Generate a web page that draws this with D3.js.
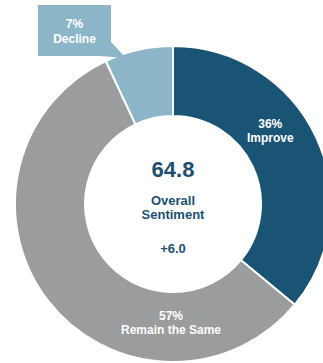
<!DOCTYPE html>
<html>
  <head>
    <meta charset="UTF-8" />
    <title>Overall Sentiment</title>
    <script src="https://d3js.org/d3.v7.min.js"></script>
    <style>
      body { margin: 0; background: #fff; }
      svg { display: block; font-family: 'Liberation Sans', Arial, sans-serif; font-weight: bold; }
    </style>
  </head>
  <body>
    <div id="main"></div>
    <script type="text/javascript">
      const width = 323;
      const height = 363;

      // data
      const categories = ['Improve', 'Remain the Same', 'Decline'];
      const shares = [36, 57, 7];
      const colors = ['#1a5475', '#9b9c9d', '#8cb5c7'];
      const score = '64.8';
      const scoreLabel = ['Overall', 'Sentiment'];
      const change = '+6.0';

      const cx = 173;
      const cy = 204;
      const rOuter = 158;
      const rInner = 88;

      const svg = d3
        .select('div#main')
        .append('svg')
        .attr('width', width)
        .attr('height', height);

      const pie = d3.pie().sort(null).value(d => d);
      const arcs = pie(shares);

      const arc = d3.arc().innerRadius(rInner).outerRadius(rOuter);

      const g = svg.append('g').attr('transform', `translate(${cx},${cy})`);

      g.selectAll('path')
        .data(arcs)
        .enter()
        .append('path')
        .attr('d', arc)
        .attr('fill', (d, i) => colors[i])
        .attr('stroke', '#fff')
        .attr('stroke-width', 2);

      // labels inside the ring, placed by hand-ish from the centroid
      const labelArc = d3.arc().innerRadius(rInner).outerRadius(rOuter);
      const labelShift = [[-14, -24], [-2, 0]];
      arcs.slice(0, 2).forEach((d, i) => {
        let [x, y] = labelArc.centroid(d);
        if (i === 1) { x = 0; y = 116; }
        x += labelShift[i][0];
        y += labelShift[i][1];
        const t = g.append('text')
          .attr('text-anchor', 'middle')
          .attr('fill', '#fff')
          .attr('font-size', 12);
        t.append('tspan').attr('x', x).attr('y', y).text(shares[i] + '%');
        t.append('tspan').attr('x', x).attr('y', y + 14).text(categories[i]);
      });

      // callout for the small slice
      const box = { x: 38, y: 5, w: 73, h: 51 };
      svg.append('path')
        .attr('d', `M${box.x + box.w - 12},${box.y + box.h} L${box.x + box.w},${box.y + box.h - 14} L${box.x + box.w + 15},${box.y + box.h + 2} Z`)
        .attr('fill', colors[2]);
      svg.append('rect')
        .attr('x', box.x)
        .attr('y', box.y)
        .attr('width', box.w)
        .attr('height', box.h)
        .attr('fill', colors[2]);
      const ct = svg.append('text')
        .attr('text-anchor', 'middle')
        .attr('fill', '#fff')
        .attr('font-size', 12);
      ct.append('tspan').attr('x', box.x + box.w / 2).attr('y', 28).text(shares[2] + '%');
      ct.append('tspan').attr('x', box.x + box.w / 2).attr('y', 43).text(categories[2]);

      // center
      const center = svg.append('g').attr('fill', '#1c4f70').attr('text-anchor', 'middle');
      center.append('text')
        .attr('x', cx)
        .attr('y', 177)
        .attr('font-size', 22)
        .text(score);
      scoreLabel.forEach((s, i) => {
        center.append('text')
          .attr('x', cx)
          .attr('y', 205 + i * 14)
          .attr('font-size', 13)
          .text(s);
      });
      center.append('text')
        .attr('x', cx)
        .attr('y', 253)
        .attr('font-size', 13)
        .text(change);
    </script>
  </body>
</html>
